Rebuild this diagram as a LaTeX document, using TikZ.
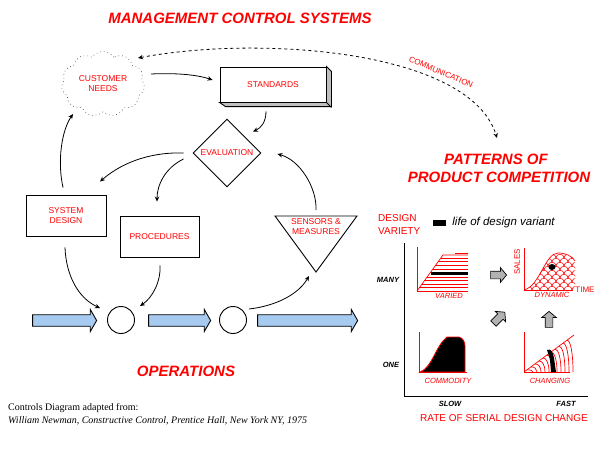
\documentclass[tikz,border=0pt]{standalone}
\usepackage{fontspec}
\setmainfont{Liberation Sans}
\newfontfamily\citefont{Liberation Serif}
\usepackage{tikz}
\usetikzlibrary{arrows.meta,shapes.geometric,shapes.symbols,shapes.arrows,positioning}
\definecolor{flowblue}{HTML}{A6CAF0}

\tikzset{
  lbl/.style={text=red,font=\fontsize{8.5}{10}\selectfont,align=center},
  heading/.style={text=red,font=\fontsize{15}{17}\selectfont\bfseries\itshape},
  box/.style={draw,line width=0.9pt,inner sep=0pt},
  conn/.style={-{Stealth[length=5pt,width=4.5pt]},line width=0.8pt},
  flow/.style={single arrow,draw,line width=0.9pt,fill=flowblue,inner xsep=0pt,inner ysep=5.3pt,single arrow head extend=5.3pt,single arrow tip angle=120},
  turn/.style={single arrow,draw,line width=0.7pt,fill=gray!60,inner xsep=0pt,inner ysep=3.5pt,single arrow head extend=3.5pt,single arrow tip angle=100,minimum height=16pt},
  redaxis/.style={red,line width=1pt},
  redline/.style={red,line width=0.7pt},
  tag/.style={text=red,font=\fontsize{7.5}{9}\selectfont\itshape},
  level/.style={font=\fontsize{7.5}{9}\selectfont\bfseries\itshape},
}

\begin{document}
\begin{tikzpicture}[x=1pt,y=-1pt]
  \useasboundingbox (0,0) rectangle (600,450);

  \draw (240,18) node[heading] (mcs) {MANAGEMENT CONTROL SYSTEMS};
  \draw (103,84) node[cloud,draw,cloud puffs=11,cloud puff arc=110,aspect=1.4,dash pattern=on 0.7pt off 3pt,minimum width=78pt,minimum height=56pt,lbl] (cloud) {CUSTOMER\\NEEDS};
  \draw (273,84.5) node[box,fill=white,minimum width=106pt,minimum height=35pt,lbl] (std) {STANDARDS};
  \filldraw[fill=gray!50,line width=0.9pt] (std.north east) -- ++(5,5) -- ++(0,35) -- ++(-106,0) -- (std.south west) -- (std.south east) -- cycle;
  \draw[line width=0.9pt] (std.south east) -- ++(5,5);
  \draw (227,153) node[diamond,box,minimum size=68pt,lbl] (eval) {EVALUATION};
  \draw (66,215.5) node[box,minimum width=80pt,minimum height=41pt,lbl] (sysd) {SYSTEM\\DESIGN};
  \draw (159.5,236.5) node[box,minimum width=79pt,minimum height=41pt,lbl] (proc) {PROCEDURES};
  \draw[line width=0.9pt] (275,216) coordinate (sensL) -- (357,216) coordinate (sensR) -- (316,272) coordinate (sensTip) -- cycle;
  \draw (316,227) node[lbl] (sens) {SENSORS \&\\MEASURES};

  \draw (63,320.5) node[flow,minimum height=64pt] (flow1) {};
  \draw (121,320) node[circle,draw,line width=0.9pt,minimum size=27pt,inner sep=0pt] (op1) {};
  \draw (178,320.5) node[flow,minimum height=62pt] (flow2) {};
  \draw (233,320) node[circle,draw,line width=0.9pt,minimum size=27pt,inner sep=0pt] (op2) {};
  \draw (306,320.5) node[flow,minimum height=100pt] (flow3) {};
  \draw (186,371) node[heading] (ops) {OPERATIONS};
  \draw (8,408) node[anchor=west,inner sep=0pt,font=\citefont\fontsize{10}{11}\selectfont] (src1) {Controls Diagram adapted from:};
  \draw (8,421) node[anchor=west,inner sep=0pt,font=\citefont\fontsize{10}{11}\selectfont\itshape] (src2) {William Newman, Constructive Control, Prentice Hall, New York NY, 1975};

  \draw[conn] ([shift={(48,-10)}]cloud.center) .. controls (172,73) and (195,74) .. ([shift={(-7,-4.5)}]std.west);
  \draw[conn] ([shift={(-7,9)}]std.south) .. controls (266,122) and (261,128) .. ([shift={(26,13)}]eval.north);
  \draw[conn] ([shift={(-9,0)}]eval.west) .. controls (155,152) and (125,160) .. ([shift={(34,-13)}]sysd.north);
  \draw[conn] ([shift={(-9,6)}]eval.west) .. controls (165,168) and (157,185) .. ([shift={(-2.5,-14)}]proc.north);
  \draw[conn] ([shift={(-3,-7)}]sysd.north) .. controls (57,160) and (62,130) .. ([shift={(-30,30)}]cloud.center);
  \draw[conn] ([shift={(0,-17)}]sens.center) .. controls (317,188) and (300,160) .. ([shift={(16,1)}]eval.east);
  \draw[conn] ([shift={(-1,11)}]sysd.south) .. controls (66,275) and (78,298) .. ([shift={(-21,-12)}]op1.center);
  \draw[conn] ([shift={(0.5,8)}]proc.south) .. controls (161,282) and (152,298) .. ([shift={(19,-14)}]op1.center);
  \draw[conn] ([shift={(16,-11)}]op2.center) .. controls (275,306) and (298,295) .. ([shift={(-7,4)}]sensTip);

  \draw (496,159) node[heading] (pat1) {PATTERNS OF};
  \draw (499,177) node[heading] (pat2) {PRODUCT COMPETITION};
  \draw[{Stealth[length=5pt,width=4.5pt]}-{Stealth[length=5pt,width=4.5pt]},line width=0.8pt,dash pattern=on 3pt off 3pt] ([shift={(35,-26)}]cloud.center) .. controls (260,35) and (470,50) .. ([shift={(1,-21)}]pat1.center);
  \draw (441,72) node[text=red,font=\fontsize{8}{10}\selectfont,rotate=-23] (comm) {COMMUNICATION};

  \draw (378,224.5) node[anchor=west,align=left,inner sep=0pt,text=red,font=\fontsize{10}{13}\selectfont] (dv) {DESIGN\\VARIETY};
  \draw (439.5,223) node[fill,minimum width=13pt,minimum height=6pt,inner sep=0pt] (key) {};
  \node[right=6pt of key,inner sep=0pt,font=\fontsize{11.5}{13}\selectfont\itshape] (keytext) {life of design variant};
  \draw[line width=1pt] (404,243) -- (404,396) -- (588,396);
  \draw (388,280) node[level] (many) {MANY};
  \draw (391,365) node[level] (one) {ONE};
  \draw (450,404) node[level] (slow) {SLOW};
  \draw (566,404) node[level] (fast) {FAST};
  \draw (504,418) node[text=red,font=\fontsize{10}{11}\selectfont] (rate) {RATE OF SERIAL DESIGN CHANGE};

  \draw[redaxis] (417,247) -- (417,291) -- (468,291);
  \draw[redline] (417,291) -- (443,255) -- (468,255);
  \draw[red,line width=1.5pt] (455,253.5) -- (468,253.5);
  \foreach \y in {258.3,261.7,265.7,269.3,277.3,280.7,284.3,287.7}
    \draw[redline] ({417+(291-\y)*0.722},\y) -- (468,\y);
  \draw[line width=2.5pt] (431,273.3) -- (468,273.3);
  \draw (449,296) node[tag] (varied) {VARIED};

  \draw[redaxis] (524,248) -- (524,290) -- (573,290);
  \begin{scope}
    \clip (524,290) .. controls (540,286) and (545,253) .. (558,253) .. controls (566,253) and (572,256) .. (575,261) -- (575,290) -- cycle;
    \foreach \r in {0,...,8}
      \foreach \c in {0,...,7}{
        \pgfmathsetmacro\sx{516+8*\c+4*mod(\r,2)}
        \pgfmathsetmacro\sy{258+4*\r}
        \pgfmathsetmacro\sxb{\sx+8}
        \pgfmathsetmacro\syb{\sy-5}
        \draw[red,line width=0.6pt] (\sx,\sy) .. controls (\sx,\syb) and (\sxb,\syb) .. (\sxb,\sy);
      }
  \end{scope}
  \draw[redline] (524,290) .. controls (540,286) and (545,253) .. (558,253) .. controls (566,253) and (572,256) .. (575,261);
  \fill (552,267) ellipse [x radius=3.5, y radius=3];
  \draw (517,262) node[text=red,font=\fontsize{8}{9}\selectfont,rotate=90] (sales) {SALES};
  \draw (585,290) node[text=red,font=\fontsize{8}{9}\selectfont] (time) {TIME};
  \draw (552,295) node[tag] (dynamic) {DYNAMIC};

  \draw[redaxis] (419,332) -- (419,372) -- (467,372);
  \filldraw[draw=red,fill=black,line width=0.8pt] (420,372) .. controls (432,368) and (436,345) .. (447,337) -- (459,337) .. controls (463,338) and (465,342) .. (465,346) -- (465,372) -- cycle;
  \draw (448,381) node[tag] (commodity) {COMMODITY};

  \draw[redaxis] (524,332) -- (524,372) -- (570,372);
  \draw[redline] (524,372) -- (574,335);
  \foreach \x in {527,531,...,567}{
    \pgfmathsetmacro\yy{372-(\x-524)*0.74}
    \pgfmathsetmacro\xa{\x+3.5}
    \pgfmathsetmacro\xb{\x+6}
    \pgfmathsetmacro\ya{\yy+0.4*(372-\yy)}
    \draw[redline] (\x,\yy) .. controls (\xa,\yy) and (\xb,\ya) .. (\xb,372);
  }
  \fill (547,350) .. controls (551,348) and (553,352) .. (554,358) -- (556,372) -- (551,372) -- (550,360) .. controls (549,356) and (548,353) .. cycle;
  \draw (550,381) node[tag] (changing) {CHANGING};

  \draw (497,275) node[turn] (go1) {};
  \draw (498,319) node[turn,rotate=45] (go2) {};
  \draw (549,321) node[turn,rotate=90] (go3) {};
\end{tikzpicture}
\end{document}
